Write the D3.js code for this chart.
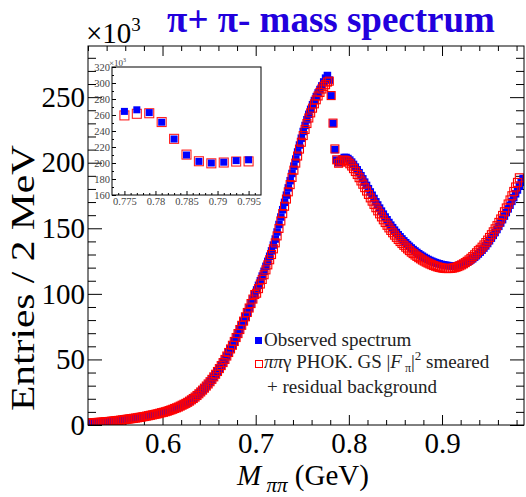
<!DOCTYPE html>
<html>
<head>
<meta charset="utf-8">
<script src="https://cdn.jsdelivr.net/npm/d3@7"></script>
<style>
body { margin: 0; background: #fff; }
svg, text { font-family: "Liberation Serif", "Times New Roman", Times, serif; }
</style>
</head>
<body>
<div id="chart"></div>
<script>
// 2 MeV bins starting at 0.52 GeV, entries in units of 10^3
var binLow = 0.52, binWidth = 0.002;
var observed = [
  1.5,1.6,1.7,1.8,1.9,2.0,2.1,2.2,2.3,2.5,
  2.6,2.7,2.9,3.0,3.2,3.4,3.5,3.7,3.9,4.1,
  4.3,4.5,4.7,4.9,5.1,5.3,5.5,5.8,6.0,6.3,
  6.5,6.8,7.1,7.4,7.7,8.0,8.3,8.6,9.0,9.4,
  9.7,10.1,10.5,11.0,11.5,12.0,12.6,13.1,13.7,14.4,
  15.1,15.8,16.5,17.3,18.2,19.2,20.2,21.3,22.5,23.8,
  25.2,26.6,28.1,29.7,31.3,33.0,34.8,36.7,38.7,40.8,
  43.0,45.3,47.6,50.0,52.6,55.3,58.0,60.8,63.7,66.7,
  69.7,72.8,76.0,79.2,82.5,85.8,89.2,92.6,96.0,99.5,
  103,106.5,110,113.6,117.2,121,124.8,128.7,132.8,137.2,
  141.8,147.2,152.9,158.6,164.2,169.8,175.3,180.8,186.3,191.8,
  197.4,202.8,208.2,213.5,218.7,223.8,228.4,232.8,236.9,240.7,
  244.2,247.4,250.4,253.2,255.8,258.6,261.6,264.5,266.5,263,
  251,230,210,202,200,201,203,204,204.0,203.2,
  202.0,200.5,198.7,196.7,194.6,192.4,190.1,187.7,185.2,182.7,
  180.2,177.7,175.2,172.7,170.2,167.8,165.4,163.1,160.8,158.6,
  156.5,154.4,152.4,150.5,148.6,146.8,145.1,143.5,141.9,140.4,
  139.0,137.6,136.3,135.0,133.8,132.7,131.6,130.6,129.6,128.7,
  127.8,127.0,126.2,125.5,124.9,124.3,123.8,123.3,122.9,122.5,
  122.2,121.9,121.7,121.5,121.4,121.3,121.3,121.4,121.6,121.9,
  122.3,122.8,123.4,124.1,124.9,125.8,126.8,127.9,129.1,130.4,
  131.8,133.3,134.9,136.6,138.4,140.5,142.5,144.6,146.8,149.1,
  151.5,154.0,156.6,159.3,162.0,164.8,167.6,170.5,173.4,176.3,
  179.2,182.1,185.0,188.0
];
var predicted = [
  1.5,1.6,1.7,1.8,1.9,2.0,2.1,2.2,2.3,2.5,
  2.6,2.7,2.9,3.0,3.2,3.4,3.5,3.7,3.9,4.1,
  4.3,4.5,4.7,4.9,5.1,5.3,5.5,5.8,6.0,6.3,
  6.5,6.8,7.1,7.4,7.7,8.0,8.3,8.6,9.0,9.4,
  9.7,10.1,10.5,11.0,11.5,12.0,12.6,13.1,13.7,14.4,
  15.1,15.8,16.5,17.3,18.2,19.2,20.2,21.3,22.5,23.8,
  25.2,26.6,28.1,29.7,31.3,33.0,34.8,36.7,38.7,40.8,
  43.0,45.3,47.6,50.0,52.6,55.3,58.0,60.8,63.7,66.7,
  69.7,72.8,76.0,79.2,82.5,85.8,89.2,92.6,96.0,99.5,
  100.5,104,107.5,111,114.6,118.3,122.1,126,130,134.3,
  138.9,144.2,149.9,155.6,161.2,166.8,172.3,177.8,183.3,188.8,
  194.3,199.7,205.1,210.4,215.6,220.7,225.4,229.9,234.1,238.0,
  241.6,244.9,248.0,250.9,253.6,256.2,258.2,259.5,261.5,262.2,
  251.2,230.2,210.5,202.2,199.6,200.6,201.8,202.0,201.6,200.6,
  199.2,197.5,195.5,193.3,191.0,188.6,186.1,183.6,181.0,178.4,
  175.8,173.2,170.7,168.2,165.7,163.3,161.0,158.7,156.5,154.4,
  152.3,150.3,148.4,146.6,144.8,143.1,141.5,139.9,138.4,137.0,
  135.6,134.3,133.0,131.8,130.7,129.6,128.6,127.6,126.7,125.8,
  125.0,124.2,123.5,122.8,122.2,121.6,121.1,120.6,120.2,119.9,
  119.6,119.4,119.3,119.3,119.4,119.6,119.9,120.3,120.8,121.4,
  122.1,122.9,123.8,124.8,125.9,127.1,128.4,129.8,131.3,132.9,
  134.0,135.6,137.3,139.1,141.0,143.0,145.1,147.3,149.6,152.0,
  154.5,157.1,159.8,162.6,165.5,168.5,171.6,174.8,178.1,181.5,
  185.0,188.5,null,null
];
// zoomed inset around the omega interference
var insetMass = [0.775,0.777,0.779,0.781,0.783,0.785,0.787,0.789,0.791,0.793,0.795];
var insetObserved = [264.5,266.5,263,251,230,210,202,200,201,203,204];
var insetPredicted = [259.5,261.5,262.2,251.2,230.2,210.5,202.2,199.6,200.6,201.8,202.0];

var xTicks = [0.6, 0.7, 0.8, 0.9];
var yTicks = [0, 50, 100, 150, 200, 250];
var insetXTicks = [0.775, 0.78, 0.785, 0.79, 0.795];
var insetYTicks = [160, 180, 200, 220, 240, 260, 280, 300, 320];

var W = 526, H = 497;
var frame = {left: 88, right: 524, top: 46, bottom: 425};
var serif = "Liberation Serif, Times New Roman, Times, serif";

var svg = d3.select("#chart").append("svg")
    .attr("width", W).attr("height", H)
    .attr("font-family", serif);

var scalex = d3.scaleLinear().domain([0.52, 0.988]).range([frame.left, frame.right]);
var scaley = d3.scaleLinear().domain([0, 289]).range([frame.bottom, frame.top]);

function bins(values) {
    var out = [];
    values.forEach(function (v, i) {
        if (v !== null) out.push({m: binLow + binWidth * (i + 0.5), v: v});
    });
    return out;
}

function minorTicks(lo, hi, step, majors) {
    var out = [];
    var n = Math.round((hi - lo) / step);
    for (var i = 0; i <= n; i++) {
        var t = +(lo + i * step).toFixed(4);
        if (majors.indexOf(t) < 0) out.push(t);
    }
    return out;
}

function styleAxis(g, fontSize) {
    g.attr("font-family", serif);
    g.select(".domain").remove();
    g.selectAll("line").attr("stroke", "#000").attr("stroke-width", 1);
    g.selectAll("text").attr("font-family", serif).attr("font-size", fontSize).attr("fill", "#000");
}

// ---- main axes ----
var xMinor = minorTicks(0.52, 0.98, 0.02, xTicks);
var yMinor = minorTicks(0, 280, 10, yTicks);

var gx = svg.append("g").attr("transform", "translate(0," + frame.bottom + ")")
    .call(d3.axisBottom(scalex).tickValues(xTicks).tickSize(-10).tickPadding(7).tickFormat(d3.format(".1f")));
styleAxis(gx, 29);
styleAxis(svg.append("g").attr("transform", "translate(0," + frame.bottom + ")")
    .call(d3.axisBottom(scalex).tickValues(xMinor).tickSize(-5).tickFormat("")), 1);
styleAxis(svg.append("g").attr("transform", "translate(0," + frame.top + ")")
    .call(d3.axisTop(scalex).tickValues(xTicks).tickSize(-10).tickFormat("")), 1);
styleAxis(svg.append("g").attr("transform", "translate(0," + frame.top + ")")
    .call(d3.axisTop(scalex).tickValues(xMinor).tickSize(-5).tickFormat("")), 1);

var gy = svg.append("g").attr("transform", "translate(" + frame.left + ",0)")
    .call(d3.axisLeft(scaley).tickValues(yTicks).tickSize(-14).tickPadding(3));
styleAxis(gy, 29);
styleAxis(svg.append("g").attr("transform", "translate(" + frame.left + ",0)")
    .call(d3.axisLeft(scaley).tickValues(yMinor).tickSize(-8).tickFormat("")), 1);
styleAxis(svg.append("g").attr("transform", "translate(" + frame.right + ",0)")
    .call(d3.axisRight(scaley).tickValues(yTicks).tickSize(-14).tickFormat("")), 1);
styleAxis(svg.append("g").attr("transform", "translate(" + frame.right + ",0)")
    .call(d3.axisRight(scaley).tickValues(yMinor).tickSize(-8).tickFormat("")), 1);

// ---- markers ----
svg.append("clipPath").attr("id", "plotclip").append("rect")
    .attr("x", frame.left).attr("y", frame.top)
    .attr("width", frame.right - frame.left).attr("height", frame.bottom - frame.top);

var plot = svg.append("g").attr("clip-path", "url(#plotclip)");
var bs = 7.5, rs = 8;
plot.append("g").selectAll("rect").data(bins(observed)).enter().append("rect")
    .attr("x", function (d) { return scalex(d.m) - bs / 2; })
    .attr("y", function (d) { return scaley(d.v) - bs / 2; })
    .attr("width", bs).attr("height", bs)
    .attr("fill", "#0000ff");
plot.append("g").selectAll("rect").data(bins(predicted)).enter().append("rect")
    .attr("x", function (d) { return scalex(d.m) - rs / 2; })
    .attr("y", function (d) { return scaley(d.v) - rs / 2; })
    .attr("width", rs).attr("height", rs)
    .attr("fill", "none").attr("stroke", "#ff0000").attr("stroke-width", 1.1);

// frame
svg.append("rect").attr("x", frame.left).attr("y", frame.top)
    .attr("width", frame.right - frame.left).attr("height", frame.bottom - frame.top)
    .attr("fill", "none").attr("stroke", "#000").attr("stroke-width", 1);

// ---- inset ----
var inset = {left: 112, right: 261, top: 67, bottom: 195};
var ix = d3.scaleLinear().domain([0.773, 0.797]).range([inset.left, inset.right]);
var iy = d3.scaleLinear().domain([160, 320]).range([inset.bottom, inset.top]);

svg.append("rect").attr("x", inset.left).attr("y", inset.top)
    .attr("width", inset.right - inset.left).attr("height", inset.bottom - inset.top)
    .attr("fill", "#fff").attr("stroke", "#000").attr("stroke-width", 1);

var ixg = svg.append("g").attr("transform", "translate(0," + inset.bottom + ")")
    .call(d3.axisBottom(ix).tickValues(insetXTicks).tickSize(-4).tickPadding(3).tickFormat(d3.format("")));
styleAxis(ixg, 10.5);
styleAxis(svg.append("g").attr("transform", "translate(0," + inset.bottom + ")")
    .call(d3.axisBottom(ix).tickValues(minorTicks(0.774, 0.796, 0.001, insetXTicks)).tickSize(-2).tickFormat("")), 1);
var iyg = svg.append("g").attr("transform", "translate(" + inset.left + ",0)")
    .call(d3.axisLeft(iy).tickValues(insetYTicks).tickSize(-4).tickPadding(2));
styleAxis(iyg, 10.5);
styleAxis(svg.append("g").attr("transform", "translate(" + inset.left + ",0)")
    .call(d3.axisLeft(iy).tickValues(minorTicks(170, 310, 20, [])).tickSize(-2).tickFormat("")), 1);
ixg.selectAll("text").attr("fill", "#444");
iyg.selectAll("text").attr("fill", "#444");

var ins = svg.append("g");
ins.selectAll(".ired").data(insetMass).enter().append("rect")
    .attr("x", function (d) { return ix(d) - 4.5; })
    .attr("y", function (d, i) { return iy(insetPredicted[i]) - 4.5; })
    .attr("width", 9).attr("height", 9)
    .attr("fill", "none").attr("stroke", "#ff2020").attr("stroke-width", 1.1);
ins.selectAll(".iblue").data(insetMass).enter().append("rect")
    .attr("x", function (d) { return ix(d) - 3.5; })
    .attr("y", function (d, i) { return iy(insetObserved[i]) - 3.5; })
    .attr("width", 7).attr("height", 7)
    .attr("fill", "#0000ff");

var t10 = svg.append("text").attr("x", 109).attr("y", 66).attr("font-size", 9).attr("fill", "#444");
t10.append("tspan").text("×10");
t10.append("tspan").attr("dy", -4).attr("font-size", 6).text("3");

// ---- texts ----
var tx = svg.append("text").attr("x", 86).attr("y", 43).attr("font-size", 29);
tx.append("tspan").text("×10");
tx.append("tspan").attr("dy", -12).attr("font-size", 19).text("3");

svg.append("text").attr("x", 331).attr("y", 32)
    .attr("text-anchor", "middle").attr("font-size", 37).attr("font-weight", "bold")
    .attr("fill", "#2200dd").text("π+ π- mass spectrum");

var xt = svg.append("text").attr("x", 303).attr("y", 485).attr("text-anchor", "middle").attr("font-size", 29);
xt.append("tspan").attr("font-style", "italic").text("M");
xt.append("tspan").attr("font-style", "italic").attr("font-size", 21).attr("dy", 7).text(" ππ");
xt.append("tspan").attr("dy", -7).text(" (GeV)");

svg.append("text").attr("transform", "translate(34,145) rotate(-90) scale(1.22,1)")
    .attr("text-anchor", "end").attr("font-size", 34).text("Entries / 2 MeV");

// ---- legend ----
var lg = svg.append("g");
lg.append("rect").attr("x", 255).attr("y", 337).attr("width", 7).attr("height", 7).attr("fill", "#0000ff");
lg.append("text").attr("x", 264).attr("y", 346).attr("font-size", 19).attr("fill", "#222").text("Observed spectrum");
lg.append("rect").attr("x", 255.5).attr("y", 360.5).attr("width", 7).attr("height", 7)
    .attr("fill", "none").attr("stroke", "#ff0000").attr("stroke-width", 1);
var l2 = lg.append("text").attr("x", 264).attr("y", 368).attr("font-size", 19).attr("fill", "#222");
l2.append("tspan").attr("font-style", "italic").text("ππ");
l2.append("tspan").text("γ PHOK. GS |");
l2.append("tspan").attr("font-style", "italic").text("F");
l2.append("tspan").attr("font-size", 12).attr("dy", 4).text(" π");
l2.append("tspan").attr("dy", -4).text("|");
l2.append("tspan").attr("font-size", 13).attr("dy", -8).text("2");
l2.append("tspan").attr("dy", 8).text(" smeared");
lg.append("text").attr("x", 267).attr("y", 393).attr("font-size", 19).attr("fill", "#222").text("+ residual background");
</script>
</body>
</html>
